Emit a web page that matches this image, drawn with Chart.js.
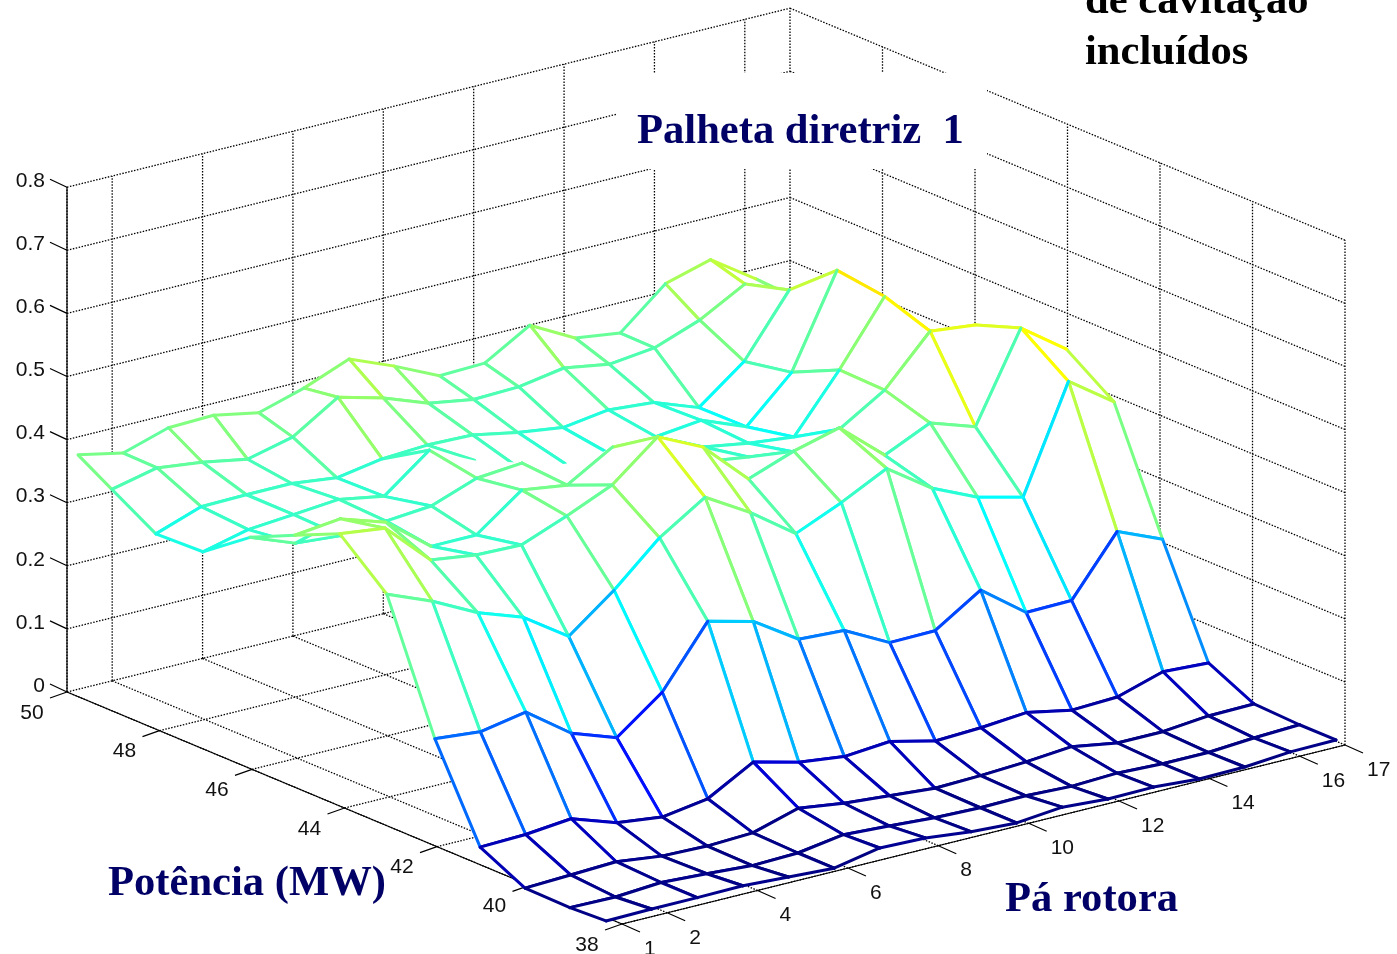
<!DOCTYPE html>
<html>
<head>
<meta charset="utf-8">
<title>Palheta diretriz 1</title>
<style>
  html, body { margin: 0; padding: 0; background: #fff; overflow: hidden; }
  canvas { display: block; }
</style>
<script src="https://cdn.jsdelivr.net/npm/chart.js@4"></script>
</head>
<body>
<canvas id="chart" width="1397" height="954"></canvas>
<script>
// tick labels
const paTicks = [1, 2, 4, 6, 8, 10, 12, 14, 16, 17];
const potTicks = [38, 40, 42, 44, 46, 48, 50];
const zTicks = [0, 0.1, 0.2, 0.3, 0.4, 0.5, 0.6, 0.7, 0.8];

// mesh coordinates
const paRotora = [1, 2, 3, 4, 5, 6, 7, 8, 9, 10, 11, 12, 13, 14, 15, 16, 17];
const potencia = [38, 38.82, 39.84, 40.86, 41.89, 42.98, 44.05, 45.07, 46.09, 47.16, 48.23, 49.23, 50];

// surface values, one list per power row
const z38 = [.008,.009,.009,.010,.006,.002,.016,.014,.006,.002,.009,.004,.005,.000,.001,.007,.008];
const z39 = [.005,.004,.009,.005,.000,.002,.013,.009,.004,.002,.003,.000,.003,.000,.000,.005,.008];
const z40 = [.006,.009,.012,.003,.001,.004,.025,.015,.009,.003,.005,.009,.015,.003,.003,.010,.011];
const z41 = [.041,.043,.050,.026,.017,.028,.068,.050,.041,.047,.030,.033,.039,.025,.028,.050,.046];
const z42 = [.182,.175,.188,.137,.112,.166,.260,.242,.196,.192,.155,.156,.202,.149,.150,.241,.211];
const z43 = [.378,.349,.313,.288,.240,.295,.360,.406,.364,.313,.344,.380,.331,.299,.281,.446,.396];
const z44 = [.442,.433,.365,.355,.353,.381,.412,.470,.436,.368,.394,.413,.352,.385,.361,.499,.448];
const z45 = [.410,.418,.395,.339,.339,.392,.382,.424,.401,.365,.355,.345,.363,.407,.482,.474,.424];
const z46 = [.377,.350,.344,.349,.355,.381,.387,.358,.324,.322,.341,.329,.321,.409,.507,.412,.394];
const z47 = [.323,.340,.346,.352,.339,.394,.360,.329,.319,.316,.326,.334,.306,.374,.517,.438,.388];
const z48 = [.320,.345,.346,.346,.337,.349,.353,.351,.337,.327,.337,.331,.305,.360,.455,.419,.372];
const z49 = [.361,.377,.368,.355,.372,.417,.398,.372,.360,.362,.374,.362,.370,.396,.435,.398,.358];
const z50 = [.393,.378,.400,.402,.388,.409,.437,.408,.375,.377,.419,.381,.371,.431,.451,.403,.352];
const superficie = [z38, z39, z40, z41, z42, z43, z44, z45, z46, z47, z48, z49, z50];

// mesh edges that are washed out in the original scan ("row,col")
const apagadasX = ['9,5', '9,6', '9,7', '9,8', '9,9', '8,6', '8,7', '8,8', '8,9', '7,7', '7,8'];
const apagadasY = ['8,6', '8,7', '8,8', '8,9', '7,7', '7,8', '7,9'];

// axes box projection (x = pá rotora, y = potência, z = height)
function boxPoint(x, y, z) {
  const s = (x - 1) / 16, t = (y - 38) / 12;
  return { x: 622 + 723 * s - 555 * t, y: 924 - 179 * s - 232 * t - 631 * z };
}

// the surface frame sits slightly off the box
function meshPoint(i, j) {
  const s = (paRotora[i] - 1) / 16, t = (potencia[j] - 38) / 12;
  return {
    x: 606 - 528 * t + s * (730 - 7 * t),
    y: 926 - 181 * s - 222 * t - 634 * superficie[j][i],
  };
}

// jet colormap over 0..0.8
function jet(z) {
  const v = z / 0.8;
  const c = (a) => Math.round(255 * Math.max(0, Math.min(1, a)));
  const r = c(Math.min(4 * v - 1.5, -4 * v + 4.5));
  const g = c(Math.min(4 * v - 0.5, -4 * v + 3.5));
  const b = c(Math.min(4 * v + 0.5, -4 * v + 2.5));
  return `rgb(${r},${g},${b})`;
}

// flat edge colours: an edge along x takes its lower column, one along y its higher row
function edgeX(j, i) {
  return apagadasX.includes(`${j},${i}`) ? 'rgba(0,0,0,0)' : jet(superficie[j][i]);
}
function edgeY(j, i) {
  return apagadasY.includes(`${j},${i}`) ? 'rgba(0,0,0,0)' : jet(superficie[j + 1][i]);
}

const GAP = { x: NaN, y: NaN };

function gridLines() {
  const pts = [];
  const add = (a, b) => pts.push(a, b, GAP);
  zTicks.forEach((z) => {
    add(boxPoint(1, 50, z), boxPoint(17, 50, z));
    add(boxPoint(17, 50, z), boxPoint(17, 38, z));
  });
  paTicks.forEach((x) => {
    add(boxPoint(x, 50, 0), boxPoint(x, 50, 0.8));
    add(boxPoint(x, 38, 0), boxPoint(x, 50, 0));
  });
  potTicks.forEach((y) => {
    add(boxPoint(17, y, 0), boxPoint(17, y, 0.8));
    add(boxPoint(1, y, 0), boxPoint(17, y, 0));
  });
  return pts;
}

function axisLines() {
  const pts = [];
  const add = (a, b) => pts.push(a, b, GAP);
  const tick = (p, dx, dy) => add(p, { x: p.x + dx, y: p.y + dy });
  add(boxPoint(1, 38, 0), boxPoint(17, 38, 0));
  add(boxPoint(1, 38, 0), boxPoint(1, 50, 0));
  add(boxPoint(1, 50, 0), boxPoint(1, 50, 0.8));
  paTicks.forEach((x) => tick(boxPoint(x, 38, 0), 18, 8));
  potTicks.forEach((y) => tick(boxPoint(1, y, 0), -17, 6));
  zTicks.forEach((z) => tick(boxPoint(1, 50, z), -17, -8));
  return pts;
}

// each mesh cell is a white fill plus a stroke with one colour per edge;
// they have to be two datasets because styled segments break up the fill
function cellDatasets() {
  const cells = [];
  for (let j = potencia.length - 2; j >= 0; j--) {
    for (let i = paRotora.length - 2; i >= 0; i--) {
      const corners = [meshPoint(i, j), meshPoint(i + 1, j), meshPoint(i + 1, j + 1), meshPoint(i, j + 1), meshPoint(i, j)];
      const edge = [edgeX(j, i), edgeY(j, i + 1), edgeX(j + 1, i), edgeY(j, i)];
      const depth = 10 + 2 * (j * 17 + i);
      cells.push({
        data: corners,
        showLine: true,
        pointRadius: 0,
        borderWidth: 0,
        backgroundColor: '#fff',
        fill: 'shape',
        order: depth + 1,
      });
      cells.push({
        data: corners,
        showLine: true,
        pointRadius: 0,
        borderWidth: 3,
        borderColor: edge[0],
        borderJoinStyle: 'round',
        borderCapStyle: 'round',
        segment: { borderColor: (ctx) => edge[ctx.p0DataIndex] },
        order: depth,
      });
    }
  }
  return cells;
}

const textPlugin = {
  id: 'labels',
  afterDatasetsDraw(chart) {
    const ctx = chart.ctx;
    ctx.save();
    // white patch behind the title
    ctx.fillStyle = '#fff';
    ctx.fillRect(617, 73, 370, 96);

    ctx.fillStyle = '#111';
    ctx.font = '21px "Liberation Sans", Arial, sans-serif';
    ctx.textBaseline = 'middle';
    ctx.textAlign = 'right';
    zTicks.forEach((z) => {
      const p = boxPoint(1, 50, z);
      ctx.fillText(String(z), p.x - 22, p.y - 6);
    });
    ctx.textAlign = 'center';
    potTicks.forEach((y) => {
      const p = boxPoint(1, y, 0);
      ctx.fillText(String(y), p.x - 35, p.y + 21);
    });
    ctx.textAlign = 'left';
    paTicks.forEach((x) => {
      const p = boxPoint(x, 38, 0);
      ctx.fillText(String(x), p.x + 22, p.y + 25);
    });

    ctx.textBaseline = 'alphabetic';
    ctx.font = 'bold 42.6px "Liberation Serif", "Times New Roman", serif';
    ctx.fillStyle = '#000066';
    ctx.fillText('Palheta diretriz  1', 637, 143);
    ctx.fillText('Potência (MW)', 108, 895);
    ctx.fillText('Pá rotora', 1005, 911);
    ctx.fillStyle = '#000';
    ctx.fillText('de cavitação', 1085, 13);
    ctx.fillText('incluídos', 1085, 64);
    ctx.restore();
  },
};

new Chart(document.getElementById('chart'), {
  type: 'scatter',
  data: {
    datasets: [
      {
        data: gridLines(),
        showLine: true,
        pointRadius: 0,
        borderWidth: 1.3,
        borderColor: '#000',
        borderDash: [1.5, 1.5],
        order: 2000,
      },
      {
        data: axisLines(),
        showLine: true,
        pointRadius: 0,
        borderWidth: 1.2,
        borderColor: '#000',
        order: 1999,
      },
      ...cellDatasets(),
    ],
  },
  options: {
    responsive: false,
    animation: false,
    layout: { padding: 0 },
    plugins: { legend: { display: false }, title: { display: false }, tooltip: { enabled: false } },
    scales: {
      x: { type: 'linear', min: 0, max: 1397, display: false },
      y: { type: 'linear', min: 0, max: 954, reverse: true, display: false },
    },
  },
  plugins: [textPlugin],
});
</script>
</body>
</html>
